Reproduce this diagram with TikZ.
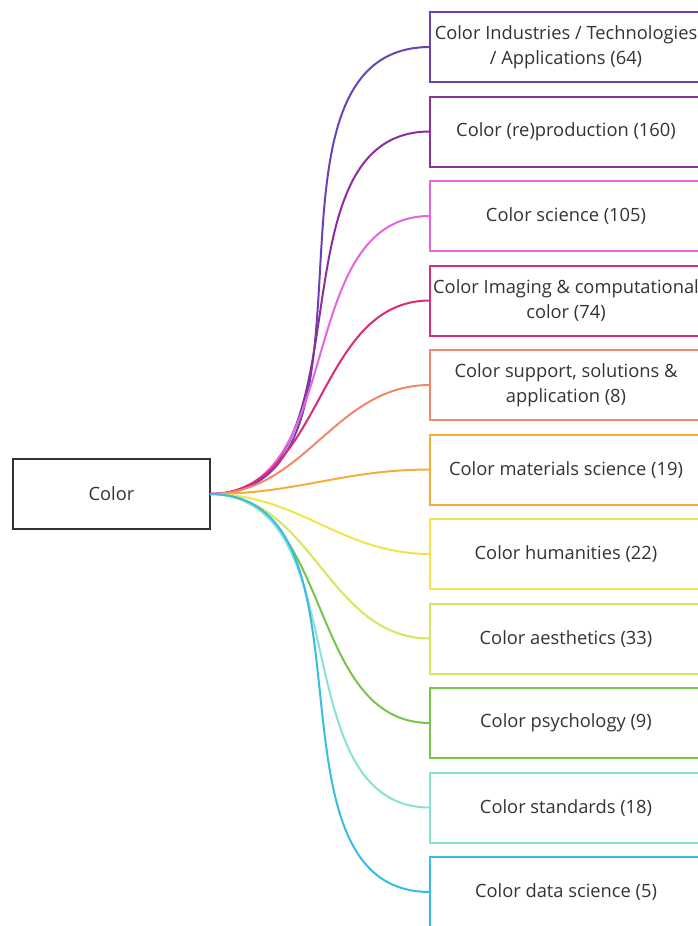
\documentclass[tikz,border=0pt]{standalone}
\usepackage{fontspec}
\setmainfont{Open Sans}
\usepackage{xcolor}
\usetikzlibrary{positioning}

\definecolor{inkgray}{HTML}{333333}
\definecolor{cIndustry}{HTML}{6A42B4}
\definecolor{cRepro}{HTML}{8C2EA0}
\definecolor{cScience}{HTML}{E466DC}
\definecolor{cImaging}{HTML}{DA2A78}
\definecolor{cSupport}{HTML}{F0866A}
\definecolor{cMaterial}{HTML}{F2AE38}
\definecolor{cHuman}{HTML}{F2E448}
\definecolor{cAesth}{HTML}{D6E65C}
\definecolor{cPsych}{HTML}{78C448}
\definecolor{cStandard}{HTML}{88E2D4}
\definecolor{cData}{HTML}{38BCE4}

\tikzset{
    topic/.style={rectangle, draw, line width=2pt, fill=white, minimum width=272pt,
        minimum height=70pt, inner sep=0pt, outer sep=0pt, align=center,
        text=inkgray, font=\fontsize{18.3}{25.5}\selectfont},
    branch/.style={line width=2pt},
}

\begin{document}
\begin{tikzpicture}[x=1pt, y=-1pt]
    \useasboundingbox (0,0) rectangle (698,926);

    % Root node
    \node[rectangle, draw=inkgray, line width=2.4pt, minimum width=197pt, minimum height=70pt,
        inner sep=0pt, outer sep=0pt, text=inkgray, font=\fontsize{18.3}{25.5}\selectfont] (color) at (111.5,494) {Color};

    % Topic boxes, top to bottom
    \node[topic, draw=cIndustry] (industry) at (566,47) {Color Industries / Technologies\\/ Applications (64)};
    \node[topic, draw=cRepro, below=14.5pt of industry] (repro) {Color (re)production (160)};
    \node[topic, draw=cScience, below=14.5pt of repro] (science) {Color science (105)};
    \node[topic, draw=cImaging, below=14.5pt of science] (imaging) {Color Imaging \& computational\\color (74)};
    \node[topic, draw=cSupport, below=14.5pt of imaging] (support) {Color support, solutions \&\\application (8)};
    \node[topic, draw=cMaterial, below=14.5pt of support] (material) {Color materials science (19)};
    \node[topic, draw=cHuman, below=14.5pt of material] (human) {Color humanities (22)};
    \node[topic, draw=cAesth, below=14.5pt of human] (aesth) {Color aesthetics (33)};
    \node[topic, draw=cPsych, below=14.5pt of aesth] (psych) {Color psychology (9)};
    \node[topic, draw=cStandard, below=14.5pt of psych] (standard) {Color standards (18)};
    \node[topic, draw=cData, below=14.5pt of standard] (data) {Color data science (5)};

    % Branches from the root
    \draw[branch, cIndustry] (color.east) to[out=0, in=180] (industry.west);
    \draw[branch, cRepro] (color.east) to[out=0, in=180] (repro.west);
    \draw[branch, cScience] (color.east) to[out=0, in=180] (science.west);
    \draw[branch, cImaging] (color.east) to[out=0, in=180] (imaging.west);
    \draw[branch, cSupport] (color.east) to[out=0, in=180] (support.west);
    \draw[branch, cMaterial] (color.east) to[out=0, in=180] (material.west);
    \draw[branch, cHuman] (color.east) to[out=0, in=180] (human.west);
    \draw[branch, cAesth] (color.east) to[out=0, in=180] (aesth.west);
    \draw[branch, cPsych] (color.east) to[out=0, in=180] (psych.west);
    \draw[branch, cStandard] (color.east) to[out=0, in=180] (standard.west);
    \draw[branch, cData] (color.east) to[out=0, in=180] (data.west);
\end{tikzpicture}
\end{document}
